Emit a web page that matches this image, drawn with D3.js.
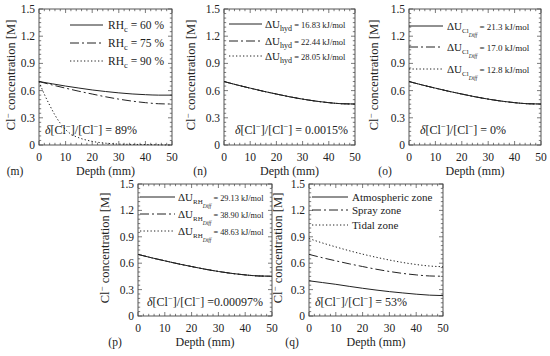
<!DOCTYPE html>
<html>
<head>
<meta charset="utf-8">
<script src="https://cdn.jsdelivr.net/npm/d3@7"></script>
<style>
	body { margin: 0; background: #fff; }
	svg { display: block; font-family: "Liberation Serif", "Times New Roman", serif; }
</style>
</head>
<body>
<svg width="550" height="356"></svg>
<script>
// depth in mm, Cl- concentration in M
const depth = [0, 5, 10, 15, 20, 25, 30, 35, 40, 45, 50];
const depthFine = [0, 2, 4, 6, 8, 10, 12, 15, 20, 25, 30, 40, 50];

const rh60 = [0.70, 0.675, 0.65, 0.628, 0.607, 0.59, 0.575, 0.563, 0.555, 0.55, 0.55];
const rh75 = [0.70, 0.662, 0.627, 0.593, 0.562, 0.532, 0.506, 0.484, 0.467, 0.455, 0.452];
const rh90 = [0.70, 0.56, 0.44, 0.33, 0.24, 0.17, 0.12, 0.08, 0.04, 0.02, 0.01, 0.005, 0.0];
const base = [0.70, 0.662, 0.627, 0.593, 0.562, 0.532, 0.506, 0.484, 0.467, 0.455, 0.452];
const atmospheric = [0.40, 0.38, 0.36, 0.337, 0.315, 0.295, 0.277, 0.262, 0.248, 0.237, 0.232];
const tidal = [0.88, 0.83, 0.785, 0.742, 0.703, 0.668, 0.636, 0.608, 0.585, 0.568, 0.56];

const xTicks = [0, 10, 20, 30, 40, 50];
const yTicks = [0, 0.3, 0.6, 0.9, 1.2, 1.5];
const yTickLabels = ["0", "0.3", "0.6", "0.9", "1.2", "1.5"];

const rhLegend = ["60", "75", "90"];
const hydLegend = ["16.83", "22.44", "28.05"];
const clLegend = ["21.3", "17.0", "12.8"];
const rhDiffLegend = ["29.13", "38.90", "48.63"];
const zoneLegend = ["Atmospheric zone", "Spray zone", "Tidal zone"];

const styles = {
	solid: null,
	dashdot: "9,3,2,3",
	dotted: "1.3,2.2"
};

const svg = d3.select("svg");
const ink = "#222";

const panels = [
	{id: "(m)", x: 39, y: 9, w: 133, h: 136, labelDx: -24, ylabDx: -28,
		series: [[depth, rh60, "solid"], [depth, rh75, "dashdot"], [depthFine, rh90, "dotted"]],
		legend: {kind: "rh", items: rhLegend, lx0: 31, lx1: 64, tx: 69, rows: [16, 34, 52]},
		delta: {text: "=  89%", dx: 6, dy: 125}},
	{id: "(n)", x: 224, y: 9, w: 131, h: 136, labelDx: -24, ylabDx: -33,
		series: [[depth, base, "dotted"], [depth, base, "dashdot"], [depth, base, "solid"]],
		legend: {kind: "hyd", items: hydLegend, lx0: 5, lx1: 38, tx: 41, rows: [15, 32, 47]},
		delta: {text: "= 0.0015%", dx: 11, dy: 125}},
	{id: "(o)", x: 409, y: 9, w: 132, h: 136, labelDx: -24, ylabDx: -35,
		series: [[depth, base, "dotted"], [depth, base, "dashdot"], [depth, base, "solid"]],
		legend: {kind: "cl", items: clLegend, lx0: 0, lx1: 34, tx: 38, rows: [17, 38, 60]},
		delta: {text: "= 0%", dx: 11, dy: 125}},
	{id: "(p)", x: 138, y: 184, w: 134, h: 132, labelDx: -23, ylabDx: -33,
		series: [[depth, base, "dotted"], [depth, base, "dashdot"], [depth, base, "solid"]],
		legend: {kind: "rhd", items: rhDiffLegend, lx0: 2, lx1: 37, tx: 40, rows: [13, 30, 47]},
		delta: {text: "=0.00097%", dx: 9, dy: 122}},
	{id: "(q)", x: 309, y: 184, w: 134, h: 132, labelDx: -17, ylabDx: -31,
		series: [[depth, atmospheric, "solid"], [depth, base, "dashdot"], [depth, tidal, "dotted"]],
		legend: {kind: "zone", items: zoneLegend, lx0: 3, lx1: 39, tx: 43, rows: [13, 26, 41]},
		delta: {text: "=  53%", dx: 6, dy: 122}}
];

const legendStyles = ["solid", "dashdot", "dotted"];

// "Cl" with a raised minus sign, then the text that follows it
function addCl(t, size, after) {
	t.append("tspan").text("Cl");
	t.append("tspan").attr("dy", -size * 0.38).attr("font-size", size * 0.72).text("\u2212");
	t.append("tspan").attr("dy", size * 0.38).text(after);
}

function legendText(g, kind, item, x, y) {
	const t = g.append("text").attr("x", x).attr("y", y).attr("fill", ink);
	if (kind === "rh") {
		t.attr("font-size", 11.5);
		t.append("tspan").text("RH");
		t.append("tspan").attr("dy", 3).attr("font-size", 8.5).text("c");
		t.append("tspan").attr("dy", -3).text(" = " + item + " %");
	} else if (kind === "hyd") {
		t.attr("font-size", 11);
		t.append("tspan").text("\u0394U");
		t.append("tspan").attr("dy", 3).attr("font-size", 8).text("hyd");
		t.append("tspan").attr("dy", -3).attr("font-size", 8.5).text(" = " + item + " kJ/mol");
	} else if (kind === "cl" || kind === "rhd") {
		t.attr("font-size", 11);
		t.append("tspan").text("\u0394U");
		t.append("tspan").attr("dy", 3).attr("font-size", 7).text(kind === "cl" ? "Cl" : "RH");
		t.append("tspan").attr("dy", 4).attr("font-size", 5.5).attr("font-style", "italic").text("Diff");
		t.append("tspan").attr("dy", -7).attr("font-size", kind === "cl" ? 9 : 8.3)
			.text("   = " + item + " kJ/mol");
	} else {
		t.attr("font-size", 11).text(item);
	}
}

panels.forEach(p => {
	const g = svg.append("g").attr("transform", `translate(${p.x},${p.y})`);
	const x = d3.scaleLinear().domain([0, 50]).range([0, p.w]);
	const y = d3.scaleLinear().domain([0, 1.5]).range([p.h, 0]);

	// ticks on all four sides, pointing in
	const xMinor = d3.range(0, 50.01, 2);
	const yMinor = d3.range(0, 1.501, 0.05);
	const tk = g.append("g").attr("stroke", "#444").attr("stroke-width", 0.7);
	xMinor.forEach(v => {
		const major = Math.abs(v % 10) < 1e-6;
		const len = major ? 4 : 2.2;
		tk.append("line").attr("x1", x(v)).attr("x2", x(v)).attr("y1", p.h).attr("y2", p.h - len);
		tk.append("line").attr("x1", x(v)).attr("x2", x(v)).attr("y1", 0).attr("y2", len);
	});
	yMinor.forEach(v => {
		const major = Math.abs(Math.round(v / 0.3) * 0.3 - v) < 1e-6;
		const len = major ? 4 : 2.2;
		tk.append("line").attr("y1", y(v)).attr("y2", y(v)).attr("x1", 0).attr("x2", len);
		tk.append("line").attr("y1", y(v)).attr("y2", y(v)).attr("x1", p.w).attr("x2", p.w - len);
	});

	g.append("rect").attr("width", p.w).attr("height", p.h)
		.attr("fill", "none").attr("stroke", "#444").attr("stroke-width", 0.9);

	// tick labels
	g.selectAll(".xl").data(xTicks).join("text")
		.attr("x", d => x(d)).attr("y", p.h + 16)
		.attr("text-anchor", "middle").attr("font-size", 11.5).attr("fill", ink)
		.text(d => d);
	g.selectAll(".yl").data(yTicks).join("text")
		.attr("x", -4).attr("y", d => y(d) + 4)
		.attr("text-anchor", "end").attr("font-size", 11.5).attr("fill", ink)
		.text((d, i) => yTickLabels[i]);

	// axis titles
	g.append("text").attr("x", p.w / 2).attr("y", p.h + 30)
		.attr("text-anchor", "middle").attr("font-size", 12).attr("fill", ink)
		.text("Depth (mm)");
	g.append("text").attr("x", p.labelDx).attr("y", p.h + 30)
		.attr("text-anchor", "middle").attr("font-size", 11.5).attr("fill", ink)
		.text(p.id);
	const yl = g.append("text")
		.attr("transform", `translate(${p.ylabDx},${p.h / 2 - 2}) rotate(-90)`)
		.attr("text-anchor", "middle").attr("dy", "0.35em")
		.attr("font-size", 12.5).attr("fill", ink);
	addCl(yl, 12.5, "  concentration [M]");

	// curves
	const line = d3.line().curve(d3.curveMonotoneX);
	p.series.forEach(s => {
		const pts = s[0].map((d, i) => [x(d), y(s[1][i])]);
		g.append("path").attr("d", line(pts))
			.attr("fill", "none").attr("stroke", ink).attr("stroke-width", 1)
			.attr("stroke-dasharray", styles[s[2]]);
	});

	// legend
	const L = p.legend;
	L.items.forEach((item, i) => {
		g.append("line").attr("x1", L.lx0).attr("x2", L.lx1)
			.attr("y1", L.rows[i]).attr("y2", L.rows[i])
			.attr("stroke", ink).attr("stroke-width", 1)
			.attr("stroke-dasharray", styles[legendStyles[i]]);
		legendText(g, L.kind, item, L.tx, L.rows[i] + 4);
	});

	// relative change annotation
	const dt = g.append("text").attr("x", p.delta.dx).attr("y", p.delta.dy)
		.attr("font-size", 12).attr("fill", ink);
	dt.append("tspan").attr("font-style", "italic").text("\u03b4");
	dt.append("tspan").text("[");
	addCl(dt, 12, "]/[");
	addCl(dt, 12, "] " + p.delta.text);
});
</script>
</body>
</html>
